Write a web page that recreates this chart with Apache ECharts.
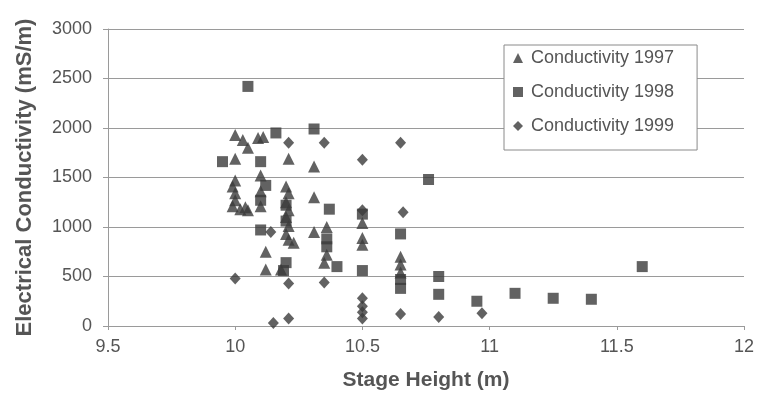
<!DOCTYPE html>
<html>
<head>
<meta charset="utf-8">
<script src="https://cdn.jsdelivr.net/npm/echarts@6/dist/echarts.min.js"></script>
<style>
  html, body { margin: 0; padding: 0; background: #ffffff; }
  #chart { width: 757px; height: 399px; }
</style>
</head>
<body>
<div id="chart"></div>
<script>
// Stage height (m) and electrical conductivity (mS/m) per survey year
const stage1997 = [10.0, 10.03, 10.05, 10.09, 10.11, 10.0, 10.0, 9.99, 10.0, 10.0, 9.99, 10.02, 10.05, 10.04,
  10.1, 10.1, 10.1, 10.12, 10.12,
  10.21, 10.2, 10.21, 10.2, 10.21, 10.2, 10.21, 10.2, 10.21, 10.23, 10.18,
  10.31, 10.31, 10.31, 10.36, 10.36, 10.35,
  10.5, 10.5, 10.5, 10.65, 10.65, 10.65];
const ec1997 = [1930, 1880, 1800, 1900, 1910, 1690, 1470, 1410, 1340, 1270, 1210, 1180, 1170, 1200,
  1520, 1360, 1210, 750, 570,
  1690, 1410, 1340, 1250, 1170, 1100, 1010, 930, 870, 840, 570,
  1610, 1300, 950, 1000, 720, 640,
  1040, 890, 820, 700, 620, 540];

const stage1998 = [9.95, 10.05, 10.16, 10.31, 10.1, 10.12, 10.1, 10.1, 10.2, 10.2, 10.2, 10.19,
  10.37, 10.36, 10.36, 10.4, 10.5, 10.5, 10.76, 10.65, 10.65, 10.65,
  10.8, 10.8, 10.95, 11.1, 11.25, 11.4, 11.6];
const ec1998 = [1660, 2420, 1950, 1990, 1660, 1420, 1270, 970, 1220, 1060, 640, 560,
  1180, 880, 800, 600, 1130, 560, 1480, 930, 470, 380,
  500, 320, 250, 330, 280, 270, 600];

const stage1999 = [10.0, 10.14, 10.15, 10.21, 10.21, 10.21, 10.35, 10.35, 10.5, 10.5, 10.5, 10.5, 10.5, 10.5,
  10.65, 10.66, 10.65, 10.8, 10.97];
const ec1999 = [480, 950, 30, 1850, 430, 75, 1850, 440, 1680, 1170, 280, 200, 140, 75,
  1850, 1150, 120, 90, 130];

const seriesNames = ['Conductivity 1997', 'Conductivity 1998', 'Conductivity 1999'];

const xTitle = 'Stage Height (m)';
const yTitle = 'Electrical Conductivity (mS/m)';

function pairs(xs, ys) {
  return xs.map((x, i) => [x, ys[i]]);
}

const markColor = '#3b3b3b';
const textColor = '#555555';
const lineColor = '#9a9a9a';
const font = 'Liberation Sans, Arial, sans-serif';

const chart = echarts.init(document.getElementById('chart'), null, { renderer: 'canvas' });

chart.setOption({
  animation: false,
  backgroundColor: '#ffffff',
  grid: { left: 108, right: 13, top: 29, bottom: 73, containLabel: false },
  legend: {
    orient: 'vertical',
    left: 504,
    top: 45,
    padding: [3, 23, 14, 9],
    itemGap: 14,
    itemWidth: 10,
    itemHeight: 10,
    borderColor: '#8a8a8a',
    borderWidth: 1,
    backgroundColor: '#ffffff',
    textStyle: { fontFamily: font, fontSize: 18, color: textColor, lineHeight: 20, padding: [0, 0, 0, 3] },
    data: [
      { name: seriesNames[0], icon: 'triangle' },
      { name: seriesNames[1], icon: 'rect' },
      { name: seriesNames[2], icon: 'diamond' }
    ]
  },
  xAxis: {
    type: 'value',
    min: 9.5,
    max: 12,
    interval: 0.5,
    name: xTitle,
    nameLocation: 'middle',
    nameGap: 44,
    nameTextStyle: { fontFamily: font, fontSize: 21, fontWeight: 'bold', color: textColor },
    axisLine: { show: true, lineStyle: { color: lineColor, width: 1 } },
    axisTick: { show: true, length: 4, lineStyle: { color: lineColor } },
    axisLabel: { fontFamily: font, fontSize: 18, color: textColor, margin: 12, formatter: v => String(v) },
    splitLine: { show: false }
  },
  yAxis: {
    type: 'value',
    min: 0,
    max: 3000,
    interval: 500,
    name: yTitle,
    nameLocation: 'middle',
    nameRotate: 90,
    nameGap: 72,
    nameTextStyle: { fontFamily: font, fontSize: 22, fontWeight: 'bold', color: textColor },
    axisLine: { show: true, lineStyle: { color: lineColor, width: 1 } },
    axisTick: { show: true, length: 5, lineStyle: { color: lineColor } },
    axisLabel: { fontFamily: font, fontSize: 18, color: textColor, margin: 16, padding: [0, 0, 8, 0], formatter: v => String(v) },
    splitLine: { show: true, lineStyle: { color: lineColor, width: 1.2 } }
  },
  series: [
    {
      name: seriesNames[0],
      type: 'scatter',
      symbol: 'triangle',
      symbolSize: 12,
      itemStyle: { color: markColor },
      data: pairs(stage1997, ec1997)
    },
    {
      name: seriesNames[1],
      type: 'scatter',
      symbol: 'rect',
      symbolSize: 11,
      itemStyle: { color: markColor },
      data: pairs(stage1998, ec1998)
    },
    {
      name: seriesNames[2],
      type: 'scatter',
      symbol: 'diamond',
      symbolSize: [11, 12],
      itemStyle: { color: markColor },
      data: pairs(stage1999, ec1999)
    }
  ]
});
</script>
</body>
</html>
